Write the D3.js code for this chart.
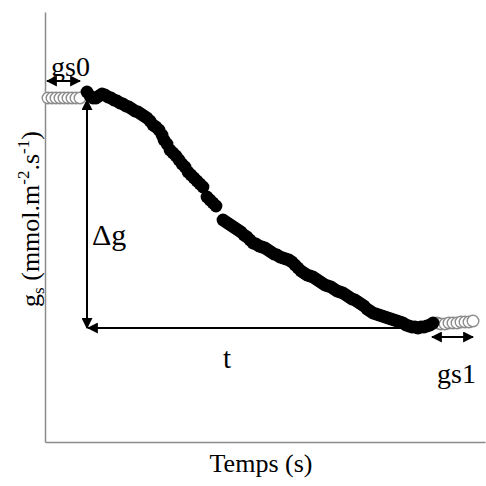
<!DOCTYPE html>
<html><head><meta charset="utf-8">
<script src="https://cdn.jsdelivr.net/npm/d3@7"></script>
<style>html,body{margin:0;padding:0;background:#fff}svg{display:block}text{font-family:"Liberation Serif","Times New Roman",serif;fill:#000}</style>
</head><body>
<script>
// time (s) and gs values (arbitrary units)
const baseTime = [3,7,11,15,19,23,27,31,35];
const baseGs   = [344,344,344,344,344,344,344,344,344];
const curveTime = [42,45,48,51,54,57,60,63,66,69,72,75,78,81,84,87,90,93,96,99,102,105,108,111,114,117,119,122,125,128,131,134,137,140,143,146,149,152,155,158,
  162,165,168,171,
  178,181,184,187,190,193,196,199,202,205,208,211,214,217,220,223,226,229,232,235,238,241,244,247,250,253,256,259,262,265,268,271,274,277,280,283,286,289,292,295,298,301,304,307,310,313,316,319,322,325,328,331,334,337,340,343,346,349,352,355,358,361,364,367,370,373,376,379,382,385,388];
const curveGs = [350,346,344,344,346,348,347,345,344,342,341,339,338,336,335,333,331,330,328,326,324,321,317,315,312,307,302,298,292,289,286,282,278,275,270,267,264,261,258,255,
  245,242,239,236,
  222,220,218,216,214,212,210,207,205,202,199,198,196,195,194,192,190,188,187,185,184,183,182,180,177,174,171,169,167,166,165,163,161,159,157,156,155,153,151,150,149,147,145,143,142,140,138,136,133,131,129,128,127,126,125,124,123,122,121,120,119,117,116,115,115,114,115,115,116,117,119];
const endTime = [392,396,400,404,408,412,416,420,424,428];
const endGs   = [119,118,118,119,119,119,120,120,120,121];

const labels = {gs0:"gs0", gs1:"gs1", dg:"\u0394g", t:"t", x:"Temps (s)"};

const W = 486, H = 486;
const svg = d3.select("body").append("svg").attr("width", W).attr("height", H);
const x = d3.scaleLinear().domain([0, 440]).range([45, 485]);
const y = d3.scaleLinear().domain([0, 430]).range([442, 12]);

const defs = svg.append("defs");
function marker(id, orient) {
  defs.append("marker").attr("id", id).attr("viewBox", "0 0 10 10").attr("refX", 9).attr("refY", 5)
    .attr("markerWidth", 5.5).attr("markerHeight", 5.5).attr("orient", orient)
    .append("path").attr("d", "M0,0L10,5L0,10Z").attr("fill", "#000");
}
marker("ah", "auto");
marker("ahs", "auto-start-reverse");

// axes (no ticks)
const axisColor = "#8c8c8c";
const yAxis = d3.axisLeft(y).tickValues([]).tickSizeOuter(0);
const xAxis = d3.axisBottom(x).tickValues([]).tickSizeOuter(0);
svg.append("g").attr("transform", `translate(${x(0)},0)`).call(yAxis)
  .call(g => g.select(".domain").attr("stroke", axisColor).attr("stroke-width", 1.5));
svg.append("g").attr("transform", `translate(0,${y(0)})`).call(xAxis)
  .call(g => g.select(".domain").attr("stroke", axisColor).attr("stroke-width", 1.5));

// annotation arrows from data
const g0 = baseGs[0], g1 = 114;
const tStart = curveTime[0];
svg.append("line").attr("x1", x(tStart)).attr("x2", x(tStart)).attr("y1", y(g0) + 2).attr("y2", y(g1))
  .attr("stroke", "#000").attr("stroke-width", 2).attr("marker-end", "url(#ah)").attr("marker-start", "url(#ahs)");
svg.append("line").attr("x1", x(tStart) + 1).attr("x2", x(365)).attr("y1", y(g1)).attr("y2", y(g1))
  .attr("stroke", "#000").attr("stroke-width", 2).attr("marker-start", "url(#ahs)");
svg.append("line").attr("x1", x(2)).attr("x2", x(35)).attr("y1", y(361)).attr("y2", y(361))
  .attr("stroke", "#000").attr("stroke-width", 2).attr("marker-end", "url(#ah)").attr("marker-start", "url(#ahs)");
svg.append("line").attr("x1", x(387)).attr("x2", x(428)).attr("y1", y(105)).attr("y2", y(105))
  .attr("stroke", "#000").attr("stroke-width", 2).attr("marker-end", "url(#ah)").attr("marker-start", "url(#ahs)");

// points
svg.append("g").selectAll("circle").data(baseTime.map((t, i) => [t, baseGs[i]])).join("circle")
  .attr("cx", d => x(d[0])).attr("cy", d => y(d[1])).attr("r", 5.8)
  .attr("fill", "#fff").attr("stroke", "#8c8c8c").attr("stroke-width", 1.4);
svg.append("g").selectAll("circle").data(endTime.map((t, i) => [t, endGs[i]])).join("circle")
  .attr("cx", d => x(d[0])).attr("cy", d => y(d[1])).attr("r", 5.8)
  .attr("fill", "#fff").attr("stroke", "#8c8c8c").attr("stroke-width", 1.4);
svg.append("g").selectAll("circle").data(curveTime.map((t, i) => [t, curveGs[i]])).join("circle")
  .attr("cx", d => x(d[0])).attr("cy", d => y(d[1])).attr("r", 6.4).attr("fill", "#000");

// texts
svg.append("text").attr("x", 51).attr("y", 76).attr("font-size", 28).text(labels.gs0);
svg.append("text").attr("x", 437).attr("y", 383).attr("font-size", 28).text(labels.gs1);
svg.append("text").attr("x", 92).attr("y", 245).attr("font-size", 30).text(labels.dg);
svg.append("text").attr("x", 227).attr("y", 368).attr("font-size", 29).attr("text-anchor", "middle").text(labels.t);
svg.append("text").attr("x", 261).attr("y", 472).attr("font-size", 26).attr("text-anchor", "middle").text(labels.x);

const yl = svg.append("text").attr("transform", "translate(39,219) rotate(-90)").attr("text-anchor", "middle").attr("font-size", 26);
yl.append("tspan").text("g");
yl.append("tspan").attr("font-size", 17).attr("dy", 5).text("s");
yl.append("tspan").attr("dy", -5).text(" (mmol.m");
yl.append("tspan").attr("font-size", 17).attr("dy", -10).text("-2");
yl.append("tspan").attr("dy", 10).text(".s");
yl.append("tspan").attr("font-size", 17).attr("dy", -10).text("-1");
yl.append("tspan").attr("dy", 10).text(")");
</script>
</body></html>
